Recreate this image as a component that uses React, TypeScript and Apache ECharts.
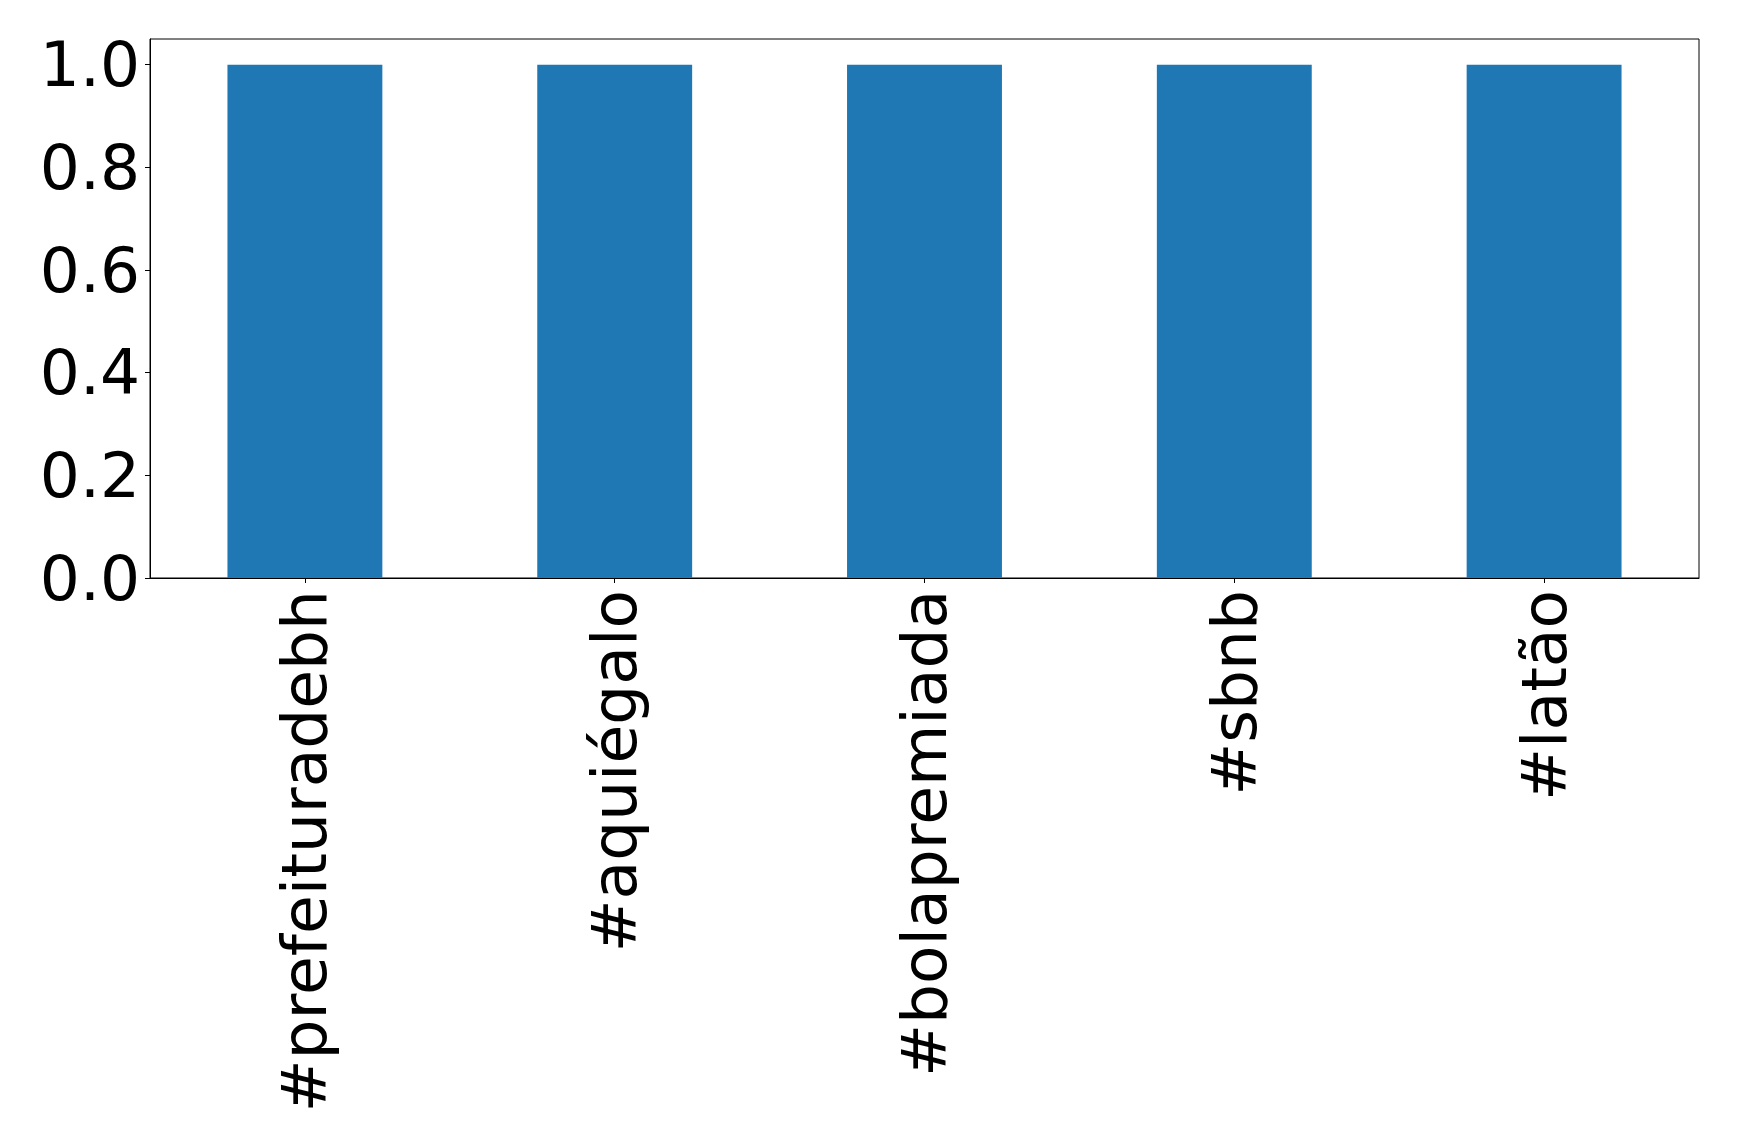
import React, { useEffect, useRef } from "react";
import * as echarts from "echarts";

const categories = ["#prefeituradebh", "#aquiégalo", "#bolapremiada", "#sbnb", "#latão"];
const values = [1.0, 1.0, 1.0, 1.0, 1.0];
const yTicks = [0, 0.2, 0.4, 0.6, 0.8, 1.0];

const FONT = "DejaVu Sans";

export default function App() {
  const ref = useRef<HTMLDivElement>(null);
  useEffect(() => {
    if (!ref.current) return;
    const chart = echarts.init(ref.current, null, { renderer: "svg" });
    chart.setOption({
      animation: false,
      backgroundColor: "#ffffff",
      grid: {
        left: 150,
        top: 39,
        right: 40,
        bottom: 568,
        show: true,
        borderColor: "#000000",
        borderWidth: 1,
        containLabel: false,
      },
      xAxis: {
        type: "category",
        data: categories,
        boundaryGap: true,
        axisLine: { show: true, lineStyle: { color: "#000000", width: 1 } },
        axisTick: { show: true, alignWithLabel: true, length: 5, lineStyle: { color: "#000000" } },
        axisLabel: {
          rotate: 90,
          interval: 0,
          margin: 12,
          fontSize: 63,
          fontFamily: FONT,
          color: "#000000",
        },
        splitLine: { show: false },
      },
      yAxis: {
        type: "value",
        min: 0,
        max: 1.05,
        axisLine: { show: true, lineStyle: { color: "#000000", width: 1 } },
        axisTick: { show: true, length: 5, lineStyle: { color: "#000000" }, customValues: yTicks },
        axisLabel: {
          margin: 10,
          fontSize: 63,
          fontFamily: FONT,
          color: "#000000",
          customValues: yTicks,
          formatter: (v: number) => v.toFixed(1),
        },
        splitLine: { show: false },
      },
      series: [
        {
          type: "bar",
          data: values,
          barWidth: "50%",
          itemStyle: { color: "#1f77b4" },
        },
      ],
    });
    return () => chart.dispose();
  }, []);
  return (
    <div
      ref={ref}
      style={{ position: "fixed", left: 0, top: 0, width: 1739, height: 1146, background: "#fff" }}
    />
  );
}
